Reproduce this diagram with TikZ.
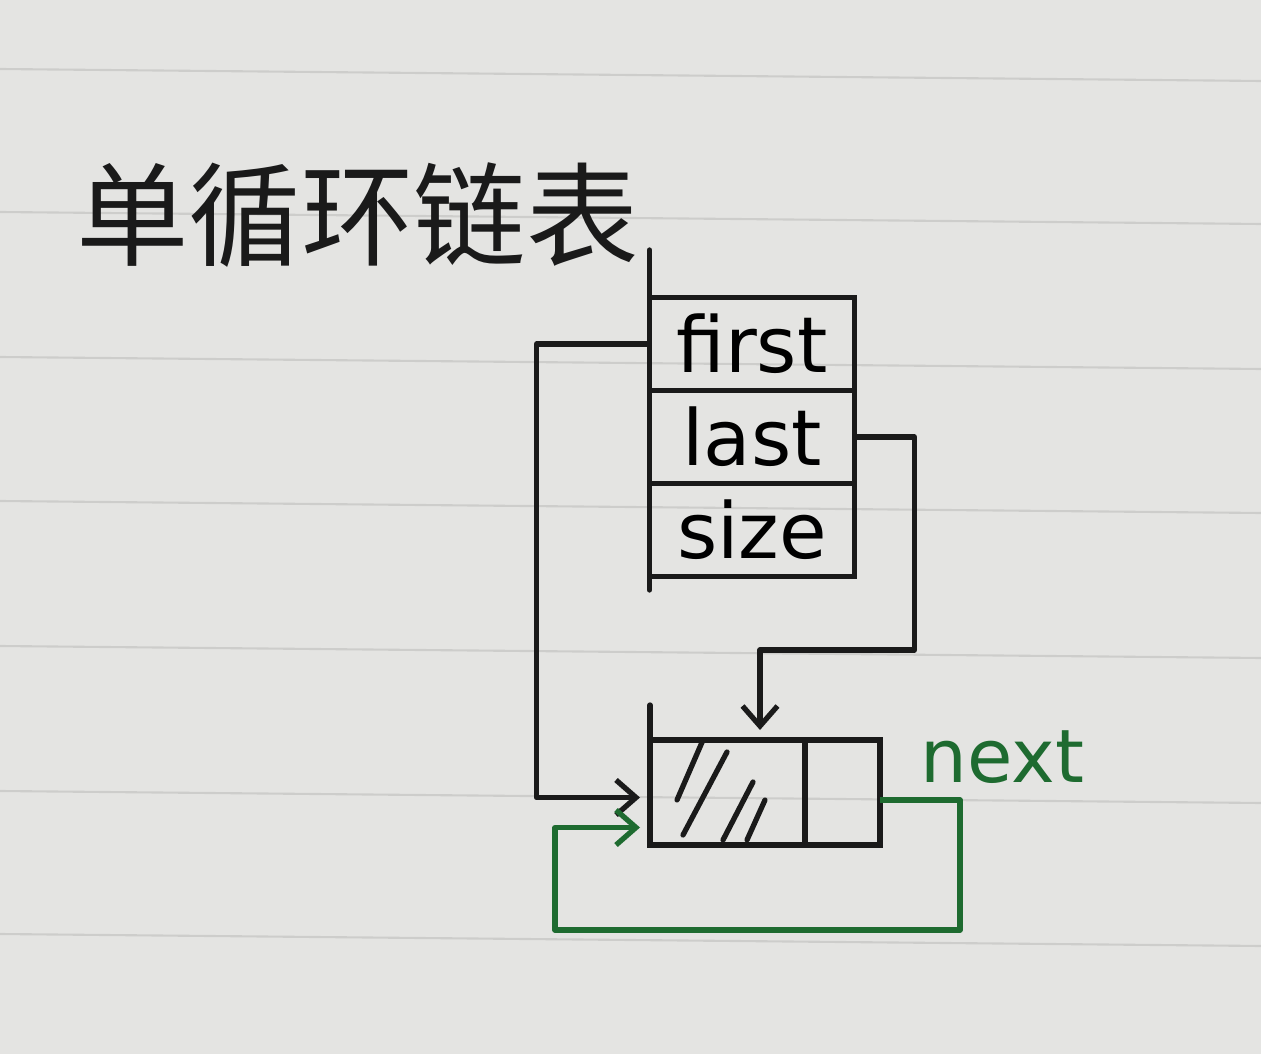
\documentclass[tikz,border=0pt]{standalone}
\usepackage{fontspec}
\setmainfont{DejaVu Sans}
\newfontfamily\cjk{Noto Sans CJK SC}
\usepackage{xcolor}
\definecolor{cInk}{HTML}{1A1A1A}
\definecolor{cNext}{HTML}{1E6B30}
\definecolor{cPaper}{HTML}{E4E4E2}
\definecolor{cRule}{HTML}{CDCDCB}
\usepackage{tikz}
\usetikzlibrary{positioning,arrows.meta,calc}
\tikzset{
  field-box/.style={draw=cInk,line width=3pt,minimum width=4.1cm,
    minimum height=1.86cm,inner sep=0pt,outer sep=0pt,
    font=\fontsize{44}{44}\selectfont},
  cell-box/.style={draw=cInk,line width=3pt,minimum height=2.1cm,
    inner sep=0pt,outer sep=0pt},
  ink-line/.style={draw=cInk,line width=3pt,line cap=round},
  rule-line/.style={draw=cRule,line width=1.2pt},
  arrow/.style={-{Straight Barb[length=4mm,width=7mm]},line width=3pt,
    draw=cInk,line join=round,shorten >=0.2cm},
  arrow-next/.style={-{Straight Barb[length=4mm,width=7mm]},line width=3pt,
    draw=cNext,line join=round,shorten >=0.2cm},
}
\begin{document}
\begin{tikzpicture}
  % paper
  \fill[cPaper] (0,0) rectangle (25.22,-21.08);
  \useasboundingbox (0,0) rectangle (25.22,-21.08);
  \foreach \y in {75,218,363,507,652,797,940}
    \draw[rule-line] (0,{-(\y-6)/50}) -- (25.22,{-(\y+6)/50});

  % title
  \node[font=\cjk\fontsize{64}{64}\selectfont,text=cInk] (title) at (7.15,-4.3) {单循环链表};

  % list header
  \node[field-box] (fFirst) at (15.04,-6.88) {first};
  \node[field-box,below=0pt of fFirst] (fLast) {last};
  \node[field-box,below=0pt of fLast] (fSize) {size};
  \draw[ink-line] ([yshift=0.95cm]fFirst.north west) -- ([yshift=-0.27cm]fSize.south west);

  % node
  \node[cell-box,minimum width=3.1cm] (nData) at (14.55,-15.85) {};
  \node[cell-box,minimum width=1.5cm,right=0pt of nData] (nNext) {};
  \draw[ink-line] ([yshift=0.7cm]nData.north west) -- (nData.south west);
  \draw[ink-line] (13.54,-16.0) -- (14.06,-14.8);
  \draw[ink-line] (13.66,-16.7) -- (14.54,-15.04);
  \draw[ink-line] (14.46,-16.8) -- (15.06,-15.64);
  \draw[ink-line] (14.94,-16.8) -- (15.3,-16.0);

  % pointers
  \draw[arrow] (fFirst.west) -- ++(-2.26,0) |- ([yshift=-0.1cm]nData.west);
  \draw[arrow] (fLast.east) -- ++(1.2,0) |- ([xshift=0.65cm,yshift=1.8cm]nData.north)
    -- ([xshift=0.65cm]nData.north);
  \draw[arrow-next] ([yshift=-0.15cm]nNext.east) -- ++(1.6,0) -- ++(0,-2.6)
    -| ([xshift=-1.9cm,yshift=-0.7cm]nData.west) -- ([yshift=-0.7cm]nData.west);
  \node[text=cNext,font=\fontsize{42}{42}\selectfont] (lblNext) at (20.05,-15.15) {next};
\end{tikzpicture}
\end{document}
